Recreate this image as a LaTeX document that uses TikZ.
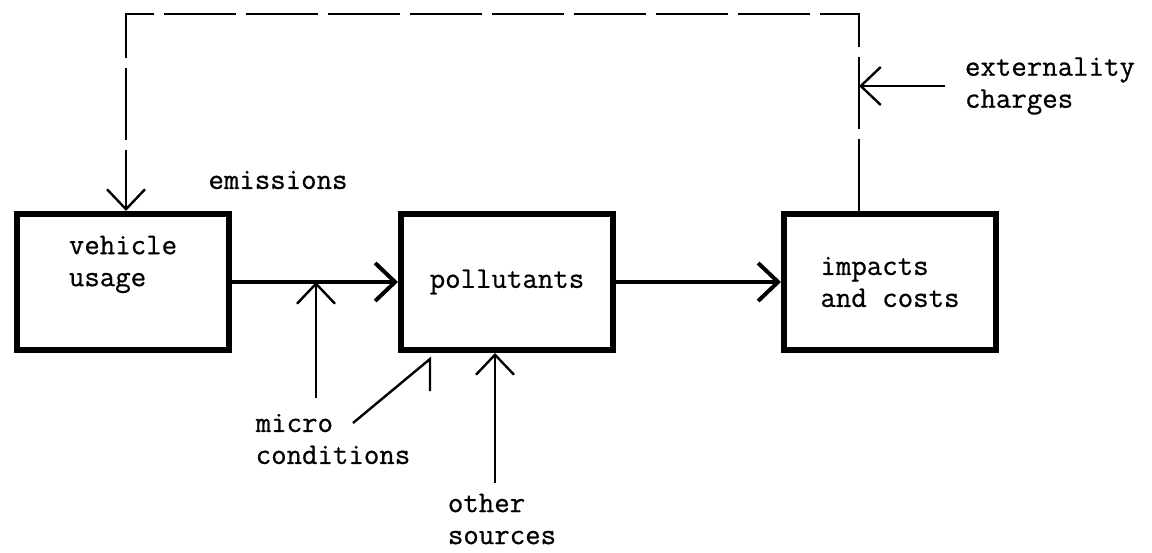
\documentclass[tikz,border=0pt]{standalone}
\usepackage{fontspec}
\setmonofont{Latin Modern Mono}[FakeBold=0.7]
\usetikzlibrary{shapes,arrows,arrows.meta,positioning}

\begin{document}
\begin{tikzpicture}[x=0.5pt,y=-0.5pt,>={Straight Barb[length=10pt,width=19pt]},
            auto,
            block node/.style={rectangle,draw,line width=3pt,font=\ttfamily\fontsize{15}{16}\selectfont,
             align=left,minimum width=106pt,minimum height=68pt},
            text node/.style={font=\ttfamily\fontsize{15}{16}\selectfont,align=left,inner sep=2pt},
            flow/.style={->,line width=2pt},
            input/.style={->,line width=1.2pt},
            feedback/.style={->,line width=1.2pt,dash pattern=on 36pt off 5pt}]

            \useasboundingbox (0,0) rectangle (1152,552);

            \node[block node,text depth=21pt] (vehicle) at (123,282) {vehicle\\usage};
            \node[block node] (pollutants) [right=83pt of vehicle] {pollutants};
            \node[block node] (impacts) [right=82.5pt of pollutants] {impacts\\and costs};

            \node[text node] (emissions) at (278,180) {emissions};
            \node[text node] (micro) at (333,439) {micro\\conditions};
            \node[text node] (other) at (502,519) {other\\sources};
            \node[text node] (charges) at (1050,86) {externality\\charges};

            \coordinate (looptop) at (500,14);
            \coordinate (rise) at ([xshift=-15.5pt]impacts.north);
            \coordinate (microfoot) at (316,398);
            \coordinate (microtail) at (353,423);
            \coordinate (microtip) at ([xshift=16pt,yshift=-3pt]pollutants.south west);
            \coordinate (otherfoot) at (495,483);

            \draw[flow] (vehicle) -- (pollutants);
            \draw[flow] (pollutants) -- (impacts);

            \draw[feedback] (rise) |- (looptop) -| ([xshift=1.5pt]vehicle.north);
            \draw[input] ([xshift=-8pt]charges.west) -- (charges.west -| rise);

            \draw[input] (microfoot) -- (microfoot |- vehicle.east);
            \draw[line width=1.2pt] (microtail) -- (microtip) -- ++(0,32);
            \draw[input] (otherfoot) -- (otherfoot |- pollutants.south);

\end{tikzpicture}
\end{document}
